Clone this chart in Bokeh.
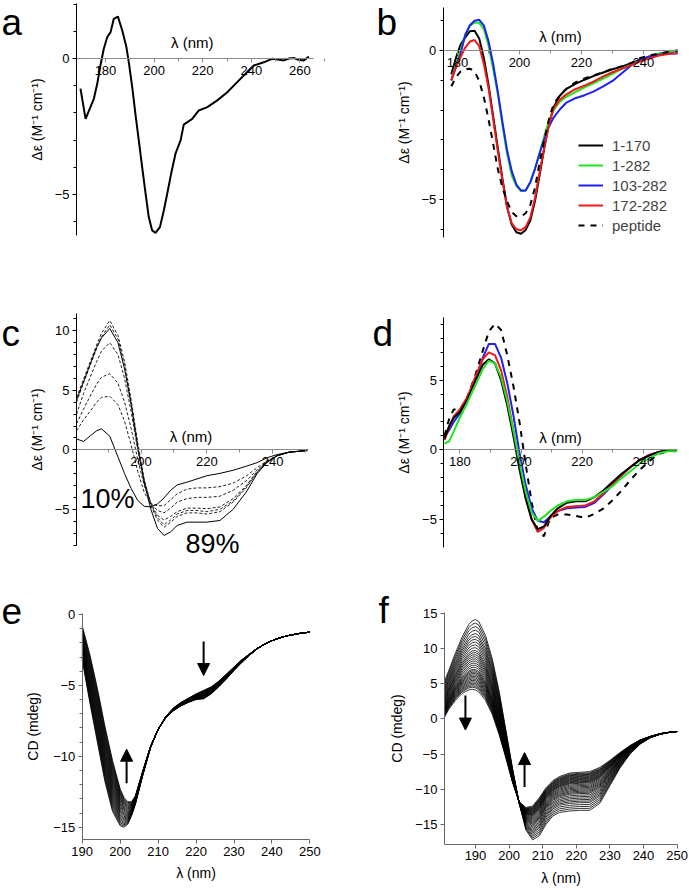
import numpy as np
from bokeh.plotting import figure
from bokeh.layouts import column, row
from bokeh.models import (Range1d, SingleIntervalTicker, FixedTicker, Label, Legend, LegendItem,
                          Arrow, NormalHead)
from bokeh.embed import file_html
from bokeh.resources import INLINE

FONT = "Liberation Sans"
GREY = "#8a8a8a"

# ---------------- panel a ----------------
a_lam = [169.7, 171.8, 173.8, 175.2, 176.6, 177.9, 179.3, 180.7, 182.1, 183.4, 185.1, 186.9,
         188.6, 189.6, 191.0, 192.3, 193.7, 195.1, 196.5, 197.8, 199.2, 200.6, 202.4, 204.0,
         205.4, 207.0, 208.8, 210.9, 212.2, 215.7, 218.4, 221.9, 226.0, 230.1, 234.2, 237.6,
         241.0, 245.1, 248.6, 251.0, 253.4, 255.5, 257.5, 259.5, 261.6, 263.7]
a_de = [-1.11, -2.22, -1.79, -1.48, -0.93, -0.26, 0.36, 0.78, 0.97, 1.46, 1.54, 1.03,
        0.42, -0.14, -1.05, -2.03, -3.01, -4.0, -4.97, -5.83, -6.32, -6.41, -6.2, -5.59,
        -4.97, -4.24, -3.5, -3.01, -2.43, -2.22, -1.91, -1.79, -1.54, -1.24, -0.87, -0.56,
        -0.26, -0.14, -0.01, -0.04, -0.07, 0.0, 0.02, -0.05, -0.07, 0.07]
a_xticks = [180, 200, 220, 240, 260]

# ---------------- panel b ----------------
b_lam = [178, 179.5, 181, 182.5, 184, 185.5, 187, 188.5, 190, 191.5, 193, 194.5, 196, 197.5,
         199, 200.5, 202, 203.5, 205, 206.5, 208, 209.5, 211, 213, 215, 218, 221, 224, 227,
         230, 233, 236, 239, 242, 245, 248, 251]
b_names = ["1-170", "1-282", "103-282", "172-282", "peptide"]
b_1_170 = [-0.8, -0.25, 0.2, 0.44, 0.65, 0.66, 0.4, -0.25, -1.15, -2.2, -3.27, -4.3, -5.26, -5.85,
           -6.1, -6.15, -6.02, -5.7, -5.05, -4.17, -3.27, -2.45, -1.9, -1.52, -1.3, -1.12, -0.98,
           -0.85, -0.74, -0.63, -0.54, -0.43, -0.3, -0.2, -0.11, -0.05, 0.0]
b_1_282 = [-1.0, -0.45, 0.0, 0.53, 0.82, 0.94, 0.93, 0.72, 0.17, -0.62, -1.45, -2.52, -3.47, -4.2,
           -4.55, -4.72, -4.7, -4.4, -3.97, -3.43, -2.87, -2.35, -2.0, -1.72, -1.56, -1.4, -1.24,
           -1.09, -0.94, -0.78, -0.62, -0.47, -0.32, -0.2, -0.11, -0.06, -0.03]
b_103_282 = [-1.0, -0.55, -0.1, 0.52, 0.85, 1.0, 1.03, 0.84, 0.32, -0.45, -1.38, -2.4, -3.35, -4.05,
             -4.5, -4.7, -4.7, -4.42, -3.97, -3.45, -2.97, -2.55, -2.25, -1.98, -1.76, -1.6, -1.5,
             -1.37, -1.2, -1.02, -0.76, -0.5, -0.32, -0.2, -0.14, -0.1, -0.09]
b_172_282 = [-1.0, -0.55, -0.22, 0.1, 0.3, 0.35, 0.15, -0.45, -1.25, -2.3, -3.37, -4.37, -5.26, -5.8,
             -6.0, -6.03, -5.92, -5.6, -4.95, -4.08, -3.25, -2.5, -1.95, -1.65, -1.48, -1.3, -1.18,
             -1.04, -0.87, -0.73, -0.61, -0.49, -0.36, -0.26, -0.17, -0.12, -0.09]
b_peptide = [-1.2, -0.9, -0.7, -0.62, -0.61, -0.7, -1.02, -1.57, -2.3, -3.13, -3.98, -4.6, -5.07, -5.42,
             -5.56, -5.57, -5.46, -5.18, -4.6, -3.75, -3.0, -2.3, -1.8, -1.5, -1.3, -1.07, -0.94,
             -0.83, -0.72, -0.62, -0.53, -0.42, -0.25, -0.16, -0.11, -0.05, 0.0]
b_xticks = [180, 200, 220, 240]

# ---------------- panel c ----------------
c_lam = [180.4, 182.5, 184.7, 186.5, 188, 190.5, 193, 195, 197, 199, 201, 203, 205, 207, 209,
         211, 214, 217, 220, 224, 228, 232, 235.3, 238.4, 241.4, 245, 250.5]
c_89 = [4.2, 5.7, 7.3, 8.6, 9.4, 10.2, 9.0, 6.8, 3.8, 0.2, -2.8, -5.0, -6.6, -7.2, -6.9,
        -6.36, -6.08, -6.08, -6.08, -5.94, -5.0, -3.55, -2.0, -1.04, -0.48, -0.2, -0.06]
c_10 = [0.92, 0.7, 1.2, 1.6, 1.76, 1.15, -0.6, -2.0, -3.25, -4.25, -4.75, -4.8, -4.55, -4.05, -3.4,
        -2.95, -2.72, -2.45, -2.18, -1.98, -1.72, -1.38, -1.08, -0.66, -0.4, -0.2, -0.06]
c_mid = [
    [4.4, 5.9, 7.5, 8.8, 9.8, 10.87, 9.6, 7.4, 4.2, 0.6, -2.6, -4.7, -5.9, -6.5, -6.1,
     -5.6, -5.3, -5.3, -5.4, -5.2, -4.4, -3.2, -1.9, -1.0, -0.48, -0.2, -0.06],
    [4.0, 5.6, 7.2, 8.5, 9.5, 10.5, 9.3, 7.1, 4.0, 0.4, -2.6, -4.6, -5.7, -6.3, -5.9,
     -5.4, -5.1, -5.1, -5.2, -5.0, -4.3, -3.1, -1.9, -1.0, -0.5, -0.2, -0.06],
    [3.0, 4.7, 6.2, 7.4, 8.3, 9.0, 8.0, 6.0, 3.2, 0.0, -2.6, -4.5, -5.5, -5.9, -5.6,
     -5.2, -4.9, -4.9, -4.95, -4.8, -4.1, -3.0, -1.8, -1.0, -0.5, -0.2, -0.06],
    [2.2, 3.4, 4.6, 5.5, 6.1, 6.4, 5.6, 4.0, 1.8, -0.8, -3.0, -4.5, -5.1, -5.3, -4.9,
     -4.4, -4.1, -4.0, -4.0, -3.9, -3.4, -2.6, -1.7, -0.95, -0.5, -0.2, -0.06],
    [1.6, 2.5, 3.3, 4.0, 4.4, 4.5, 3.8, 2.4, 0.4, -1.8, -3.6, -4.5, -4.7, -4.7, -4.2,
     -3.7, -3.3, -3.2, -3.2, -3.1, -2.8, -2.2, -1.5, -0.9, -0.5, -0.2, -0.06],
]
c_xticks = [200, 220, 240]

# ---------------- panel d ----------------
d_lam = [175, 176.5, 178, 180, 182.5, 185, 187.5, 189.5, 191.5, 193.5, 195.5, 197.5, 199.5, 201.5,
         203.5, 205.5, 207.5, 209.5, 212, 215, 218, 221, 224, 227, 230, 233, 236, 239, 242, 245,
         248, 251]
d_1_170 = [0.8, 1.7, 2.3, 2.7, 3.6, 4.9, 6.1, 6.5, 6.2, 5.0, 3.2, 1.0, -1.4, -3.5, -5.0, -5.7, -5.5,
           -4.8, -4.2, -3.8, -3.7, -3.7, -3.4, -2.9, -2.3, -1.7, -1.2, -0.7, -0.4, -0.15, -0.05, -0.05]
d_1_282 = [0.45, 0.6, 1.3, 2.3, 3.4, 4.6, 5.8, 6.4, 6.2, 5.2, 3.5, 1.4, -0.9, -3.0, -4.5, -5.1, -4.8,
           -4.4, -4.0, -3.7, -3.6, -3.6, -3.4, -3.0, -2.6, -2.0, -1.5, -0.95, -0.6, -0.25, -0.1, -0.1]
d_103_282 = [0.9, 1.4, 2.0, 2.6, 3.6, 5.0, 6.6, 7.6, 7.6, 6.6, 4.8, 2.5, -0.2, -2.5, -4.2, -5.1, -5.2,
             -4.8, -4.4, -4.2, -4.15, -4.1, -3.8, -3.2, -2.5, -1.8, -1.2, -0.7, -0.4, -0.15, -0.05, -0.05]
d_172_282 = [0.7, 1.6, 2.4, 2.9, 3.8, 5.2, 6.5, 7.0, 6.8, 5.7, 3.8, 1.4, -1.1, -3.3, -5.0, -5.9, -5.6,
             -4.9, -4.4, -4.1, -4.05, -4.0, -3.7, -3.1, -2.4, -1.8, -1.2, -0.7, -0.35, -0.15, -0.05, -0.05]
d_peptide = [1.0, 2.2, 2.9, 2.85, 3.8, 5.3, 7.1, 8.5, 9.05, 8.6, 6.8, 4.6, 2.0, -1.0, -3.8, -5.9, -6.2,
             -4.9, -4.65, -4.65, -4.75, -4.88, -4.6, -4.2, -3.6, -2.9, -2.1, -1.4, -0.8, -0.3, -0.1, -0.05]
d_xticks = [180, 200, 220, 240]

# ---------------- panel e (titration family) ----------------
e_lam = [190, 192, 194, 196, 198, 200, 201, 202, 203, 204, 206, 208, 210, 212, 214, 216, 218, 220,
         222, 224, 226, 228, 230, 232, 234, 236, 238, 240, 242, 244, 246, 248, 250]
e_first = [-3.2, -6.2, -9.0, -11.8, -13.9, -14.9, -15.0, -14.8, -14.2, -13.4, -11.3, -9.4, -8.1,
           -7.2, -6.6, -6.2, -5.9, -5.6, -5.35, -5.1, -4.7, -4.2, -3.7, -3.2, -2.8, -2.4, -2.1,
           -1.85, -1.65, -1.5, -1.4, -1.3, -1.25]
e_last = [-0.8, -2.8, -5.2, -7.9, -10.3, -12.3, -12.9, -13.2, -13.2, -12.8, -11.0, -9.3, -8.1,
          -7.3, -6.8, -6.45, -6.2, -6.0, -5.95, -5.6, -5.1, -4.55, -3.95, -3.4, -2.9, -2.45, -2.1,
          -1.85, -1.65, -1.5, -1.4, -1.3, -1.25]
e_fraction = [0.0, 0.04, 0.08, 0.12, 0.16, 0.2, 0.24, 0.28, 0.32, 0.36, 0.4, 0.44, 0.48, 0.52,
              0.56, 0.6, 0.64, 0.68, 0.72, 0.76, 0.8, 0.84, 0.88, 0.92, 0.96, 1.0]
e_xticks = [190, 200, 210, 220, 230, 240, 250]
e_yticks = [0, -5, -10, -15]
e_yminor = [-1, -2, -3, -4, -6, -7, -8, -9, -11, -12, -13, -14]

# ---------------- panel f (titration family) ----------------
f_lam = [180.75, 182, 184, 186, 188, 189, 190, 191, 193, 195, 197, 199, 201, 203, 205, 207, 209,
         211, 213, 215, 218, 221, 224, 227, 230, 233, 236, 239, 242, 245, 248, 250]
f_first = [5.3, 6.8, 9.3, 11.6, 13.4, 13.9, 14.1, 13.8, 11.8, 8.5, 4.0, -1.5, -7.0, -12.0, -15.8,
           -17.2, -16.6, -15.0, -13.8, -13.3, -13.1, -13.0, -13.0, -12.0, -9.5, -7.0, -5.0, -3.6,
           -2.7, -2.2, -1.9, -1.8]
f_last = [0.2, 1.3, 2.6, 3.6, 4.1, 4.2, 4.1, 3.8, 2.6, 0.6, -2.2, -5.5, -9.0, -11.8, -12.6, -12.4,
          -11.2, -9.8, -8.8, -8.2, -7.7, -7.6, -7.5, -6.9, -5.9, -4.8, -3.8, -3.0, -2.5, -2.1, -1.9,
          -1.8]
f_peak190 = [14.1, 13.6, 13.1, 12.6, 12.1, 11.7, 11.3, 10.9, 10.5, 10.1, 9.7, 9.4, 9.1, 8.8, 8.5,
             8.2, 7.9, 7.6, 7.3, 7.0, 6.8, 6.6, 6.4, 6.2, 6.0, 5.8, 5.6, 5.4, 5.2, 5.0, 4.8, 4.6,
             4.4, 4.1]
f_xticks = [190, 200, 210, 220, 230, 240, 250]
f_yticks = [15, 10, 5, 0, -5, -10, -15]

panel_letters = ["a", "b", "c", "d", "e", "f"]


# ---------- layout helpers: each panel is one figure whose frame fills it ----------
def panel(w, h, x_anchor, x_px, x_scale, y_anchor, y_px, y_scale):
    """Figure of size w x h whose data coordinates put x_anchor at pixel x_px
    (x_scale px per unit) and y_anchor at pixel y_px from the top (y_scale px per unit)."""
    xr = (x_anchor - x_px / x_scale, x_anchor + (w - x_px) / x_scale)
    yr = (y_anchor - (h - y_px) / y_scale, y_anchor + y_px / y_scale)
    p = figure(width=w, height=h, x_range=Range1d(*xr), y_range=Range1d(*yr),
               output_backend="svg", toolbar_location=None, min_border=0)
    p.xgrid.visible = False
    p.ygrid.visible = False
    p.outline_line_color = None
    for ax in p.axis:
        ax.major_label_text_font = FONT
        ax.major_label_text_font_size = "13px"
        ax.major_label_text_color = "black"
        ax.axis_label_text_font = FONT
        ax.axis_label_text_font_size = "14px"
        ax.axis_label_text_font_style = "normal"
        ax.axis_label_text_color = "black"
        ax.major_tick_in = 0
        ax.minor_tick_in = 0
        ax.major_tick_out = 4
        ax.minor_tick_out = 3
        ax.major_label_standoff = 3
    return p, (xr, yr, w, h)


def at_px(geom, px, py):
    xr, yr, w, h = geom
    return xr[0] + px * (xr[1] - xr[0]) / w, yr[1] - py * (yr[1] - yr[0]) / h


def big_text(p, geom, txt, px, py_baseline, size):
    # the label is anchored on the middle of its em box (0.3465 em above the baseline)
    x, y = at_px(geom, px, py_baseline - 0.3465 * size)
    p.add_layout(Label(x=x, y=y, text=txt, text_font=FONT, text_font_size=f"{size}px",
                       text_baseline="middle", text_color="black"))


def de_axes(p, x0, x1, y0, y1, xticks):
    xa = p.xaxis[0]
    xa.fixed_location = 0
    xa.bounds = (x0, x1)
    xa.ticker = FixedTicker(ticks=xticks, minor_ticks=[t + 10 for t in xticks])
    xa.axis_line_color = GREY
    xa.major_tick_line_color = GREY
    xa.minor_tick_line_color = GREY
    ya = p.yaxis[0]
    ya.fixed_location = x0
    ya.bounds = (y0, y1)
    ya.ticker = SingleIntervalTicker(interval=5, num_minor_ticks=5)
    ya.axis_line_color = "black"
    ya.major_tick_line_color = "black"
    ya.minor_tick_line_color = "black"
    ya.axis_label = "Δε (M⁻¹ cm⁻¹)"
    ya.axis_label_standoff = 7


def cd_axes(p, x0, x1, y0, y1, xticks, yticks, yminor):
    xa = p.xaxis[0]
    xa.fixed_location = y0
    xa.bounds = (x0, x1)
    xa.ticker = FixedTicker(ticks=xticks)
    xa.axis_label = "λ (nm)"
    xa.axis_label_standoff = 6
    ya = p.yaxis[0]
    ya.fixed_location = x0
    ya.bounds = (y0, y1)
    ya.ticker = FixedTicker(ticks=yticks, minor_ticks=yminor)
    ya.axis_label = "CD (mdeg)"
    for ax in (xa, ya):
        ax.axis_line_color = "#666666"
        ax.major_tick_line_color = "#666666"
        ax.minor_tick_line_color = "#666666"


def lam_label(p, x, y):
    p.add_layout(Label(x=x, y=y, text="λ (nm)", text_font=FONT, text_font_size="15px",
                       text_align="center", text_baseline="middle", text_color="black"))


LETTER_SIZE = 37

# ---- a ----
pa, ga = panel(345, 250, 180, 105, 2.43, 0, 58, 27.2)
de_axes(pa, 168.1, 265.7, -6.51, 2.02, a_xticks)
pa.line(a_lam, a_de, line_color="black", line_width=2)
lam_label(pa, 215.7, 0.57)
big_text(pa, ga, panel_letters[0], 1, 35, LETTER_SIZE)

# ---- b ----
pb, gb = panel(344, 250, 200, 174, 3.1, 0, 50, 29.8)
de_axes(pb, 175.4, 250.9, -6.28, 1.44, b_xticks)
b_series = [b_1_170, b_1_282, b_103_282, b_172_282, b_peptide]
b_colors = ["black", "#1ee61e", "#2020f0", "#f01818", "black"]
items = []
for name, ys, col in zip(b_names, b_series, b_colors):
    dash = "dashed" if name == "peptide" else "solid"
    r = pb.line(b_lam, ys, line_color=col, line_width=2, line_dash=dash)
    items.append(LegendItem(label=name, renderers=[r]))
leg = Legend(items=items, location=(233, 15), orientation="vertical",
             label_text_font=FONT, label_text_font_size="15px", glyph_width=25,
             glyph_height=20, label_height=20, spacing=0, padding=0, margin=0,
             label_standoff=9, border_line_color=None, background_fill_alpha=0)
pb.add_layout(leg)
lam_label(pb, 213.2, 0.47)
big_text(pb, gb, panel_letters[1], 31, 35, LETTER_SIZE)

# ---- c ----
pc, gc = panel(345, 310, 200, 140.5, 3.29, 0, 199.3, 11.9)
de_axes(pc, 180.4, 250.9, -8.04, 11.45, c_xticks)
pc.xaxis[0].ticker = FixedTicker(ticks=c_xticks, minor_ticks=[190, 210, 230, 250])
for ys in c_mid:
    pc.line(c_lam, ys, line_color="#222222", line_width=1, line_dash="3 2")
pc.line(c_lam, c_89, line_color="black", line_width=1)
pc.line(c_lam, c_10, line_color="black", line_width=1)
lam_label(pc, 215.2, 1.09)
big_text(pc, gc, "10%", 80, 258, 27)
big_text(pc, gc, "89%", 185, 303, 27)
big_text(pc, gc, panel_letters[2], 1, 96, LETTER_SIZE)

# ---- d ----
pd_, gd = panel(344, 310, 180, 114.3, 3.06, 0, 199.3, 13.93)
de_axes(pd_, 174.8, 251.1, -6.99, 9.52, d_xticks)
d_series = [d_peptide, d_103_282, d_172_282, d_1_170, d_1_282]
d_colors = ["black", "#2020f0", "#f01818", "black", "#1ee61e"]
d_dash = ["dashed", "solid", "solid", "solid", "solid"]
for ys, col, ds in zip(d_series, d_colors, d_dash):
    pd_.line(d_lam, ys, line_color=col, line_width=2, line_dash=ds)
lam_label(pd_, 212.9, 0.9)
big_text(pd_, gd, panel_letters[3], 27, 96, LETTER_SIZE)

# ---- e ----
pe, ge = panel(345, 330, 190, 81.7, 3.795, 0, 54, 14.18)
cd_axes(pe, 190, 250, -15.89, 0.09, e_xticks, e_yticks, e_yminor)
pe.yaxis[0].axis_label_standoff = 9
e0 = np.array(e_first)
e1 = np.array(e_last)
pe.multi_line([e_lam] * len(e_fraction), [list(e0 + w * (e1 - e0)) for w in e_fraction],
              line_color="black", line_width=0.8)
pe.add_layout(Arrow(end=NormalHead(size=12, fill_color="black", line_color="black"),
                    x_start=222.0, y_start=-1.9, x_end=222.0, y_end=-4.3, line_width=2))
pe.add_layout(Arrow(end=NormalHead(size=12, fill_color="black", line_color="black"),
                    x_start=201.7, y_start=-11.9, x_end=201.7, y_end=-9.5, line_width=2))
big_text(pe, ge, panel_letters[4], 1, 63, LETTER_SIZE)

# ---- f ----
pf, gf = panel(344, 330, 190, 130, 3.36, 0, 158.3, 7.04)
cd_axes(pf, 180.75, 250, -17.84, 15.1, f_xticks, f_yticks, [])
pf.yaxis[0].axis_label_standoff = 7
f0 = np.array(f_first)
f1 = np.array(f_last)
p190_0 = f_first[f_lam.index(190)]
p190_1 = f_last[f_lam.index(190)]
f_w = [(p190_0 - pk) / (p190_0 - p190_1) for pk in f_peak190]
pf.multi_line([f_lam] * len(f_w), [list(f0 + w * (f1 - f0)) for w in f_w],
              line_color="black", line_width=0.8)
pf.add_layout(Arrow(end=NormalHead(size=12, fill_color="black", line_color="black"),
                    x_start=187.0, y_start=3.3, x_end=187.0, y_end=-1.6, line_width=2))
pf.add_layout(Arrow(end=NormalHead(size=12, fill_color="black", line_color="black"),
                    x_start=204.6, y_start=-9.7, x_end=204.6, y_end=-4.8, line_width=2))
big_text(pf, gf, panel_letters[5], 33, 63, LETTER_SIZE)

layout = column(row(pa, pb, spacing=0), row(pc, pd_, spacing=0), row(pe, pf, spacing=0),
                spacing=0)
open("out.html", "w").write(file_html(layout, INLINE))
